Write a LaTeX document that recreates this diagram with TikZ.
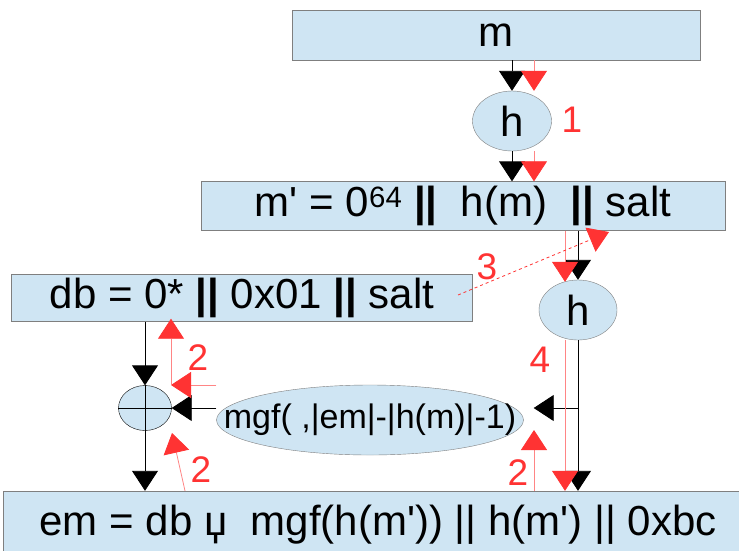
\documentclass[tikz,border=0pt]{standalone}
\usepackage{fontspec}
\setmainfont{Liberation Sans}
\usetikzlibrary{positioning, arrows.meta, shapes.geometric}
\definecolor{boxblue}{HTML}{CFE5F3}
\definecolor{edgegray}{HTML}{7F7F7F}
\definecolor{stepred}{HTML}{FF3333}
\providecommand{\bigtxt}{\fontsize{42}{48}\selectfont}
\providecommand{\midtxt}{\fontsize{34}{40}\selectfont}
\providecommand{\numtxt}{\fontsize{37}{40}\selectfont}
\providecommand{\q}{\textquotesingle}

\begin{document}
\begin{tikzpicture}[
  x=1pt, y=-1pt,
  field/.style={
    draw=edgegray, fill=boxblue, rectangle, inner sep=0pt,
    minimum width=#1, font=\bigtxt
  },
  func/.style={
    draw=edgegray, fill=boxblue, ellipse, inner sep=0pt, font=\bigtxt
  },
  blk/.style={draw=black, line width=0.9pt,
    -{Triangle[width=26pt, length=20pt]}},
  redarr/.style={draw=stepred!60, line width=0.8pt,
    -{Triangle[width=26pt, length=20pt, color=stepred]}},
  stepnum/.style={text=stepred, font=\numtxt, inner sep=0pt}
]
\clip (0,0) rectangle (739,550);

% blocks
\node[field=408pt, minimum height=50pt] (msg) at (496,35) {m};
\node[func, minimum width=79pt, minimum height=60pt] (hone) at (512,121) {h};
\node[field=524pt, minimum height=49pt] (mprime) at (463,206)
  {m\q{} = 0\textsuperscript{64} \textbf{||}\ \ h(m)\ \ \textbf{||} salt};
\node[func, minimum width=78pt, minimum height=60pt] (htwo) at (578,310) {h};
\node[field=461pt, minimum height=47pt] (db) at (242,298)
  {db = 0* \textbf{||} 0x01 \textbf{||} salt};
\node[draw=black, fill=boxblue, ellipse, inner sep=0pt,
  minimum width=53pt, minimum height=45pt] (xor) at (145,408) {};
\draw[line width=0.8pt] (xor.north) -- (xor.south) (xor.west) -- (xor.east);
\node[func, inner xsep=-40pt, inner ysep=0pt, minimum width=307pt,
  minimum height=70pt, font=\midtxt]
  (mgf) at (370,420) {mgf( ,|em|-|h(m)|-1)};
\node[field=750pt, minimum height=68pt] (em) at (378,525)
  {em = db џ\ \ mgf(h(m\q{})) || h(m\q{}) || 0xbc};

% lanes for the red steps
\coordinate (laneA) at (534,0);
\coordinate (laneB) at (565,0);
\coordinate (laneC) at (171,385);
\coordinate (saltend) at (458,295);
\coordinate (mpsalt) at (609,232);

% black data flow
\draw[blk] (msg.south -| hone.north) -- (hone.north);
\draw[blk] (hone.south) -- (mprime.north -| hone.south);
\draw[blk] (mprime.south -| htwo.north) -- (htwo.north);
\draw[blk] (htwo.south) -- (em.north -| htwo.south);
\draw[blk] (htwo.south |- xor.east) -- ([xshift=10pt]mgf.east |- xor.east);
\draw[blk] (mgf.west |- xor.east) -- (xor.east);
\draw[blk] (db.south -| xor.north) -- (xor.north);
\draw[blk] (xor.south) -- (em.north -| xor.south);

% red steps
\draw[redarr] (msg.south -| laneA) -- (hone.north -| laneA);
\draw[redarr] (hone.south -| laneA) -- (mprime.north -| laneA);
\draw[redarr] (mprime.south -| laneB) -- ([yshift=-2pt]htwo.north -| laneB);
\draw[redarr, draw=stepred, dashed] (saltend) -- (mpsalt);
\draw[redarr] (htwo.south -| laneB) -- (em.north -| laneB);
\draw[redarr] (em.north -| laneA) -- ([yshift=-10pt]mgf.east -| laneA);
\draw[redarr] (mgf.west |- laneC) -- (laneC);
\draw[redarr] (laneC) -- ([yshift=3pt]db.south -| laneC);
\draw[redarr] (em.north -| 185,0) -- (172,433);

\node[stepnum] (one) at (572,120) {1};
\node[stepnum] (three) at (487,267) {3};
\node[stepnum] (twoA) at (198,358) {2};
\node[stepnum] (twoB) at (201,470) {2};
\node[stepnum] (four) at (540,360) {4};
\node[stepnum] (twoC) at (518,473) {2};
\end{tikzpicture}
\end{document}
